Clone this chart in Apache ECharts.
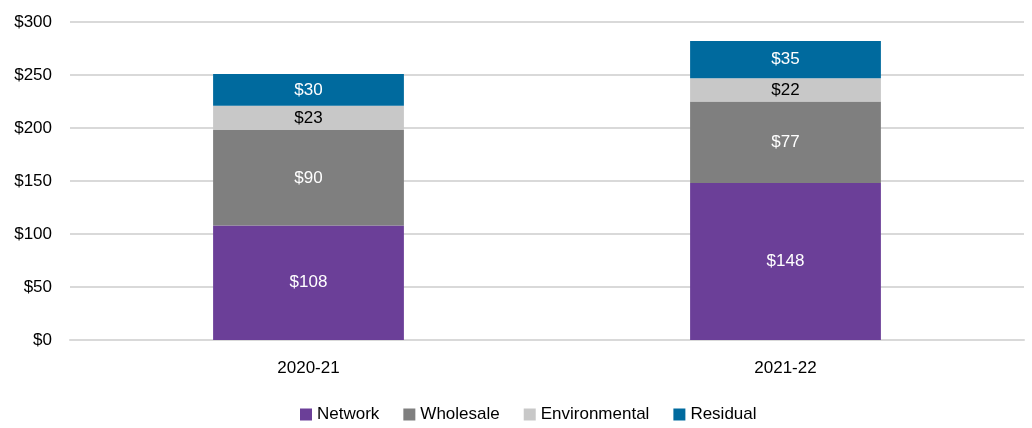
<!DOCTYPE html>
<html><head><meta charset="utf-8">
<script src="https://cdn.jsdelivr.net/npm/echarts@6/dist/echarts.min.js"></script>
<style>html,body{margin:0;padding:0;background:#fff}#c{width:1032px;height:428px}</style>
</head><body><div id="c"></div>
<script>
const categories = ['2020-21', '2021-22'];
const network = [108, 148];
const wholesale = [90, 77];
const environmental = [23, 22];
const residual = [30, 35];
const seriesNames = ['Network', 'Wholesale', 'Environmental', 'Residual'];
const colors = ['#6B3F98', '#7F7F7F', '#C8C8C8', '#006A9E'];
const labelColors = ['#ffffff', '#ffffff', '#000000', '#ffffff'];
const font = '"Liberation Sans", Arial, sans-serif';

const chart = echarts.init(document.getElementById('c'));
const dataSets = [network, wholesale, environmental, residual];
chart.setOption({
  animation: false,
  textStyle: { fontFamily: font },
  grid: { left: 70, right: 8, top: 22, bottom: 88, containLabel: false },
  legend: {
    bottom: 5, left: 300, padding: 0, itemWidth: 12, itemHeight: 12, itemGap: 24,
    icon: 'rect',
    textStyle: { fontSize: 17, color: '#000', fontFamily: font },
    data: seriesNames
  },
  xAxis: {
    type: 'category', data: categories,
    axisLine: { lineStyle: { color: '#D9D9D9', width: 2 } },
    axisTick: { show: false },
    axisLabel: { fontSize: 17, color: '#000', margin: 20, fontFamily: font }
  },
  yAxis: {
    type: 'value', min: 0, max: 300, interval: 50,
    axisLine: { show: false }, axisTick: { show: false },
    splitLine: { lineStyle: { color: '#D9D9D9', width: 2 } },
    axisLabel: { fontSize: 17, color: '#000', margin: 18, fontFamily: font, formatter: v => '$' + v }
  },
  series: seriesNames.map((n, i) => ({
    name: n, type: 'bar', stack: 'total', data: dataSets[i],
    barWidth: '40%',
    itemStyle: { color: colors[i] },
    label: { show: true, position: 'inside', color: labelColors[i], fontSize: 17, fontFamily: font, formatter: p => '$' + p.value }
  }))
});
</script></body></html>
